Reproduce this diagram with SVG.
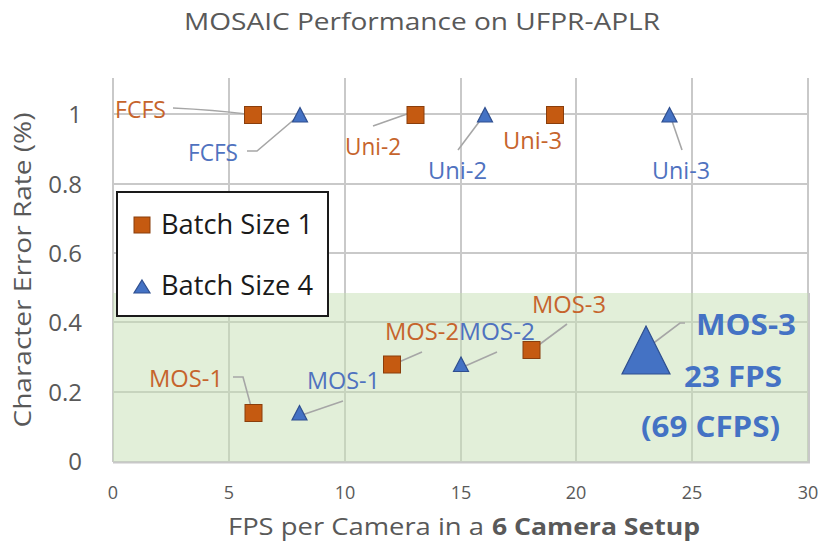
<svg xmlns="http://www.w3.org/2000/svg" width="824" height="548" viewBox="0 0 824 548">
  <style>
    text { font-family: "Open Sans", "Liberation Sans", sans-serif; }
    .title { font-size: 23px; fill: #595959; }
    .axis { font-size: 24px; fill: #595959; }
    .ytick { font-size: 24px; fill: #595959; text-anchor: end; }
    .xtick { font-size: 18px; fill: #595959; text-anchor: middle; }
    .grid { stroke: #c9c9c9; stroke-width: 2; fill: none; }
    .lead { stroke: #a6a6a6; stroke-width: 1.6; fill: none; }
    .lo { font-size: 23px; fill: #c6642c; }
    .lb { font-size: 23px; fill: #4f72bf; }
    .big { font-size: 29px; font-weight: bold; fill: #4472c4; }
    .sq { fill: #c55a11; stroke: #8a3e0c; stroke-width: 1; }
    .tri { fill: #4472c4; stroke: #2f4f8f; stroke-width: 1.2; }
    .legtext { font-size: 27px; fill: #1a1a1a; }
  </style>
  <defs>
    <rect id="sq" x="-8.5" y="-8.5" width="17" height="17" class="sq"/>
    <polygon id="tri" points="0,-7.5 7.5,7 -7.5,7" class="tri"/>
  </defs>

  <rect x="0" y="0" width="824" height="548" fill="#ffffff"/>

  <text class="title" x="422" y="30" text-anchor="middle" textLength="476" lengthAdjust="spacingAndGlyphs">MOSAIC Performance on UFPR-APLR</text>

  <!-- plot grid -->
  <g id="grid">
    <path class="grid" d="M113,78V462 M229,78V462 M345,78V462 M461,78V462 M576,78V462 M692,78V462 M808,78V462"/>
    <path class="grid" d="M113,114H808 M113,184H808 M113,253H808 M113,322H808 M113,392H808 M113,462H808"/>
  </g>

  <!-- low error-rate zone -->
  <rect id="zone" x="113" y="293" width="697" height="170" fill="#c5e0b4" fill-opacity="0.5"/>
  <path d="M113,462.5H810 M809,293V463" stroke="#c8c8c8" stroke-width="2" fill="none"/>

  <!-- axes labels -->
  <g id="yticks">
    <text class="ytick" x="82" y="123">1</text>
    <text class="ytick" x="82" y="193">0.8</text>
    <text class="ytick" x="82" y="262">0.6</text>
    <text class="ytick" x="82" y="331">0.4</text>
    <text class="ytick" x="82" y="401">0.2</text>
    <text class="ytick" x="82" y="470">0</text>
  </g>
  <g id="xticks">
    <text class="xtick" x="113" y="499">0</text>
    <text class="xtick" x="229" y="499">5</text>
    <text class="xtick" x="345" y="499">10</text>
    <text class="xtick" x="461" y="499">15</text>
    <text class="xtick" x="576" y="499">20</text>
    <text class="xtick" x="692" y="499">25</text>
    <text class="xtick" x="808" y="499">30</text>
  </g>
  <text class="axis" x="228" y="535" textLength="256" lengthAdjust="spacingAndGlyphs">FPS per Camera in a</text>
  <text class="axis" x="492" y="535" font-weight="bold" textLength="208" lengthAdjust="spacingAndGlyphs">6 Camera Setup</text>
  <text class="axis" transform="translate(31,270) rotate(-90)" text-anchor="middle" textLength="315" lengthAdjust="spacingAndGlyphs">Character Error Rate (%)</text>

  <!-- legend -->
  <g id="legend">
    <rect x="117" y="192" width="211" height="124" fill="#ffffff" stroke="#1a1a1a" stroke-width="2"/>
    <rect x="134" y="217" width="16" height="16" class="sq"/>
    <text class="legtext" x="161" y="234" textLength="152" lengthAdjust="spacingAndGlyphs">Batch Size 1</text>
    <polygon points="142,280 150,293 134,293" class="tri"/>
    <text class="legtext" x="161" y="295" textLength="152" lengthAdjust="spacingAndGlyphs">Batch Size 4</text>
  </g>

  <!-- label leader lines -->
  <g id="connectors">
    <path class="lead" d="M173,108 Q215,110 246,114"/>
    <path class="lead" d="M247,151 H257 L297,117"/>
    <path class="lead" d="M373,126 L407,114"/>
    <path class="lead" d="M458,150 L482,118"/>
    <path class="lead" d="M682,150 L671,118"/>
    <path class="lead" d="M233,377 H243 L252,410"/>
    <path class="lead" d="M343,401 L302,415"/>
    <path class="lead" d="M422,352 L392,365"/>
    <path class="lead" d="M497,352 L463,367"/>
    <path class="lead" d="M567,324 L532,350"/>
    <path class="lead" d="M685,323 H680 L647,348"/>
  </g>

  <!-- batch size 1 -->
  <g id="b1-fcfs"><use href="#sq" x="253" y="115"/><text class="lo" x="115" y="118" textLength="51" lengthAdjust="spacingAndGlyphs">FCFS</text></g>
  <g id="b1-uni2"><use href="#sq" x="415.5" y="115"/><text class="lo" x="345" y="155" textLength="56" lengthAdjust="spacingAndGlyphs">Uni-2</text></g>
  <g id="b1-uni3"><use href="#sq" x="555" y="115"/><text class="lo" x="503" y="149" textLength="59" lengthAdjust="spacingAndGlyphs">Uni-3</text></g>
  <g id="b1-mos1"><use href="#sq" x="253.5" y="413"/><text class="lo" x="149" y="387" textLength="74" lengthAdjust="spacingAndGlyphs">MOS-1</text></g>
  <g id="b1-mos2"><use href="#sq" x="392" y="364.5"/><text class="lo" x="385" y="340" textLength="74" lengthAdjust="spacingAndGlyphs">MOS-2</text></g>
  <g id="b1-mos3"><use href="#sq" x="531.5" y="350"/><text class="lo" x="532" y="313" textLength="74" lengthAdjust="spacingAndGlyphs">MOS-3</text></g>

  <!-- batch size 4 -->
  <g id="b4-fcfs"><use href="#tri" x="300" y="115"/><text class="lb" x="188" y="161" textLength="50" lengthAdjust="spacingAndGlyphs">FCFS</text></g>
  <g id="b4-uni2"><use href="#tri" x="485" y="115"/><text class="lb" x="428" y="179" textLength="59" lengthAdjust="spacingAndGlyphs">Uni-2</text></g>
  <g id="b4-uni3"><use href="#tri" x="669.5" y="115"/><text class="lb" x="652" y="179" textLength="58" lengthAdjust="spacingAndGlyphs">Uni-3</text></g>
  <g id="b4-mos1"><use href="#tri" x="299.5" y="413"/><text class="lb" x="307" y="389" textLength="73" lengthAdjust="spacingAndGlyphs">MOS-1</text></g>
  <g id="b4-mos2"><use href="#tri" x="461" y="364.5"/><text class="lb" x="459" y="340" textLength="76" lengthAdjust="spacingAndGlyphs">MOS-2</text></g>
  <g id="b4-mos3">
    <polygon points="646,326 670,374 622,374" class="tri" stroke-width="2"/>
    <text class="big" x="696" y="335" textLength="100" lengthAdjust="spacingAndGlyphs">MOS-3</text>
    <text class="big" x="684" y="387" font-size="27" textLength="98" lengthAdjust="spacingAndGlyphs">23 FPS</text>
    <text class="big" x="641" y="437" font-size="27" textLength="139" lengthAdjust="spacingAndGlyphs">(69 CFPS)</text>
  </g>
</svg>
